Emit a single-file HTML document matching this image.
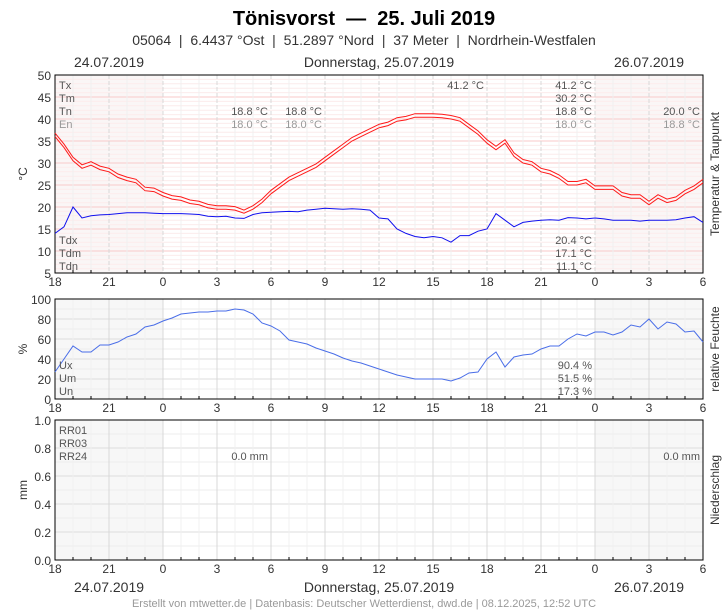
<!DOCTYPE html>
<html><head><meta charset="utf-8">
<style>
body{margin:0;background:#fff;font-family:"Liberation Sans",sans-serif;}
svg text{font-family:"Liberation Sans",sans-serif;white-space:pre;}
</style></head>
<body>
<svg id="chart" width="728" height="610" viewBox="0 0 728 610" xmlns="http://www.w3.org/2000/svg" xml:space="preserve">
<text x="364" y="25" text-anchor="middle" font-size="20" font-weight="bold" fill="#000">Tönisvorst  —  25. Juli 2019</text>
<text x="364" y="45" text-anchor="middle" font-size="14" fill="#333">05064  |  6.4437 °Ost  |  51.2897 °Nord  |  37 Meter  |  Nordrhein-Westfalen</text>
<text x="109" y="67" text-anchor="middle" font-size="14" fill="#333">24.07.2019</text>
<text x="379" y="67" text-anchor="middle" font-size="14" fill="#333">Donnerstag, 25.07.2019</text>
<text x="649" y="67" text-anchor="middle" font-size="14" fill="#333">26.07.2019</text>
<text x="109" y="592" text-anchor="middle" font-size="14" fill="#333">24.07.2019</text>
<text x="379" y="592" text-anchor="middle" font-size="14" fill="#333">Donnerstag, 25.07.2019</text>
<text x="649" y="592" text-anchor="middle" font-size="14" fill="#333">26.07.2019</text>
<text x="364" y="607" text-anchor="middle" font-size="11" fill="#999">Erstellt von mtwetter.de | Datenbasis: Deutscher Wetterdienst, dwd.de | 08.12.2025, 12:52 UTC</text>
<g id="g"></g>
</svg>
<script>
const hourLabels = ["18","21","0","3","6","9","12","15","18","21","0","3","6"];
const tempTicks = [5,10,15,20,25,30,35,40,45,50];
const humTicks = [0,20,40,60,80,100];
const rainTicks = ["0.0","0.2","0.4","0.6","0.8","1.0"];
// half-hourly values from 18:00 on 24.07 to 06:00 on 26.07
const tempA = [36.8,34.3,31.3,29.6,30.3,29.3,28.8,27.5,26.8,26.3,24.5,24.3,23.3,22.6,22.3,21.6,21.3,20.6,20.3,20.3,20.1,19.3,20.3,21.8,23.8,25.3,26.8,27.8,28.8,29.8,31.3,32.8,34.3,35.8,36.8,37.8,38.8,39.3,40.3,40.6,41.2,41.2,41.2,41.1,40.8,40.3,38.8,37.3,35.3,33.8,35.3,32.3,30.8,30.3,28.8,28.3,27.3,25.8,25.8,26.3,24.8,24.8,24.8,23.3,22.8,22.8,21.3,22.8,21.8,22.3,23.8,24.8,26.3];
const tempB = [36,33.5,30.5,28.8,29.5,28.5,28,26.7,26,25.5,23.7,23.5,22.5,21.8,21.5,20.8,20.5,19.8,19.5,19.5,19.3,18.6,19.5,21,23,24.5,26,27,28,29,30.5,32,33.5,35,36,37,38,38.5,39.5,39.8,40.4,40.4,40.4,40.3,40,39.5,38,36.5,34.5,33,34.5,31.5,30,29.5,28,27.5,26.5,25,25,25.5,24,24,24,22.5,22,22,20.5,22,21,21.5,23,24,25.5];
const dew = [14,15.5,20,17.5,18,18.2,18.3,18.5,18.7,18.7,18.7,18.6,18.5,18.5,18.5,18.4,18.3,17.9,17.8,17.9,17.5,17.4,18.3,18.7,18.8,18.9,19,18.9,19.3,19.5,19.7,19.6,19.5,19.6,19.5,19.3,17.5,17.3,15,14,13.3,13,13.3,13,12,13.5,13.5,14.5,15,18.5,17,15.5,16.5,16.8,17,17.1,17,17.6,17.5,17.3,17.5,17.3,17,17,17,16.8,17,17,17,17.1,17.5,17.8,16.5];
const hum = [27,40,53,47,47,54,54,57,62,65,72,74,78,81,85,86,87,87,88,88,90,89,85,76,73,68,59,57,55,51,48,45,41,38,36,33,30,27,24,22,20,20,20,20,18,21,26,27,40,47,32,42,44,45,50,53,53,60,65,63,67,67,64,67,74,72,80,70,77,75,67,68,57];
const rr = [0,0,0,0,0,0,0,0,0,0,0,0,0];

const NS="http://www.w3.org/2000/svg";
const g=document.getElementById('g');
const X0=55,X1=703;
const x=h=>X0+(X1-X0)*h/36;
function el(tag,attrs,parent){const e=document.createElementNS(NS,tag);for(const k in attrs)e.setAttribute(k,attrs[k]);(parent||g).appendChild(e);return e;}
function txt(s,attrs){const e=el('text',attrs);e.textContent=s;return e;}

const panels=[
 {name:'temperature',top:75,bot:273,min:5,max:50,ticks:tempTicks,unit:'°C',right:'Temperatur & Taupunkt',pink:true},
 {name:'humidity',top:299,bot:399,min:0,max:100,ticks:humTicks,unit:'%',right:'relative Feuchte'},
 {name:'precipitation',top:420,bot:560,min:0,max:1,ticks:rainTicks.map(Number),unit:'mm',right:'Niederschlag'}
];
panels.forEach(p=>{
 p.y=v=>p.bot-(p.bot-p.top)*(v-p.min)/(p.max-p.min);
 let r=el('rect',{x:X0,y:p.top,width:X1-X0,height:p.bot-p.top,fill:'#fff'});
 
 
 [[0,6],[30,36]].forEach(n=>{let s=el('rect',{x:x(n[0]),y:p.top,width:x(n[1])-x(n[0]),height:p.bot-p.top,fill:p.pink?'#faf6f6':'#f7f7f7'});
  
  });
 if(p.pink){for(let v=5;v<=50;v++){el('line',{x1:X0,x2:X1,y1:p.y(v),y2:p.y(v),stroke:v%5==0?'#f8caca':'#fcecec','stroke-width':1});}}
 else{const st=(p.max-p.min)/10;for(let i=0;i<=10;i++){const v=p.min+i*st;el('line',{x1:X0,x2:X1,y1:p.y(v),y2:p.y(v),stroke:i%2==0?'#dcdcdc':'#eeeeee','stroke-width':1});}}
 for(let h=0;h<=36;h++){const major=h%3==0;el('line',{x1:x(h),x2:x(h),y1:p.top,y2:p.bot,stroke:major?'#d8d8d8':'#f0f0f0','stroke-width':1,'stroke-dasharray':p.pink&&major?'4,2':'none'});
  el('line',{x1:x(h),x2:x(h),y1:p.bot,y2:p.bot-(major?0:3),stroke:'#000'});}
 let fr=el('rect',{x:X0,y:p.top,width:X1-X0,height:p.bot-p.top,fill:'none',stroke:'#000','stroke-width':1});
 
 
 p.ticks.forEach((v,i)=>{let t=txt(p.name==='precipitation'?rainTicks[i]:String(v),{x:51,y:p.y(v)+5,'text-anchor':'end','font-size':12,fill:'#333'});
  
  });
 hourLabels.forEach((l,i)=>{let t=txt(l,{x:x(i*3),y:p.bot+13,'text-anchor':'middle','font-size':12,fill:'#333'});
  
  });
 const cy=(p.top+p.bot)/2;
 let u=txt(p.unit,{x:27,y:cy,'text-anchor':'middle','font-size':12,fill:'#333',transform:`rotate(-90 27 ${cy})`});
 
 
 let rt=txt(p.right,{x:719,y:cy,'text-anchor':'middle','font-size':12,fill:'#333',transform:`rotate(-90 719 ${cy})`});
 
 
});
function line(arr,p,color,name,w){
 const d=arr.map((v,i)=>(i?'L':'M')+x(i*0.5).toFixed(1)+','+p.y(v).toFixed(1)).join('');
 const e=el('path',{d:d,fill:'none',stroke:color,'stroke-width':w||1});
 
 
}
line(tempA,panels[0],'#ff1a1a','temperature-max-line');
line(tempB,panels[0],'#ff1a1a','temperature-min-line');
line(dew,panels[0],'#1010ee','dewpoint-line');
line(hum,panels[1],'#4a6ee8','humidity-line');
rr.forEach((v,i)=>{const p=panels[2];const b=el('rect',{x:x(i*3),y:p.y(v),width:2,height:p.bot-p.y(v),fill:'#3060d0'});
 
 });
function lab(s,xx,yy,col,anchor,name){const t=txt(s,{x:xx,y:yy,'font-size':11,fill:col,'text-anchor':anchor||'start'});
 
 }
const dk='#555',lt='#999';
lab('Tx',59,89,dk,'start','legend-tx');lab('Tm',59,102,dk,'start','legend-tm');lab('Tn',59,115,dk,'start','legend-tn');lab('En',59,128,lt,'start','legend-en');
lab('18.8 °C',268,115,dk,'end','tn-value');lab('18.0 °C',268,128,lt,'end','en-value');
lab('18.8 °C',322,115,dk,'end','tn-value-2');lab('18.0 °C',322,128,lt,'end','en-value-2');
lab('41.2 °C',484,89,dk,'end','tx-max-value');
lab('41.2 °C',592,89,dk,'end','tx-day-value');lab('30.2 °C',592,102,dk,'end','tm-day-value');lab('18.8 °C',592,115,dk,'end','tn-day-value');lab('18.0 °C',592,128,lt,'end','en-day-value');
lab('20.0 °C',700,115,dk,'end','tn-next-value');lab('18.8 °C',700,128,lt,'end','en-next-value');
lab('Tdx',59,244,dk,'start','legend-tdx');lab('Tdm',59,257,dk,'start','legend-tdm');lab('Tdn',59,270,dk,'start','legend-tdn');
lab('20.4 °C',592,244,dk,'end','tdx-value');lab('17.1 °C',592,257,dk,'end','tdm-value');lab('11.1 °C',592,270,dk,'end','tdn-value');
lab('Ux',59,369,dk,'start','legend-ux');lab('Um',59,382,dk,'start','legend-um');lab('Un',59,395,dk,'start','legend-un');
lab('90.4 %',592,369,dk,'end','ux-value');lab('51.5 %',592,382,dk,'end','um-value');lab('17.3 %',592,395,dk,'end','un-value');
lab('RR01',59,434,dk,'start','legend-rr01');lab('RR03',59,447,dk,'start','legend-rr03');lab('RR24',59,460,dk,'start','legend-rr24');
lab('0.0 mm',268,460,dk,'end','rr24-value');lab('0.0 mm',700,460,dk,'end','rr24-next-value');
</script>
</body></html>
